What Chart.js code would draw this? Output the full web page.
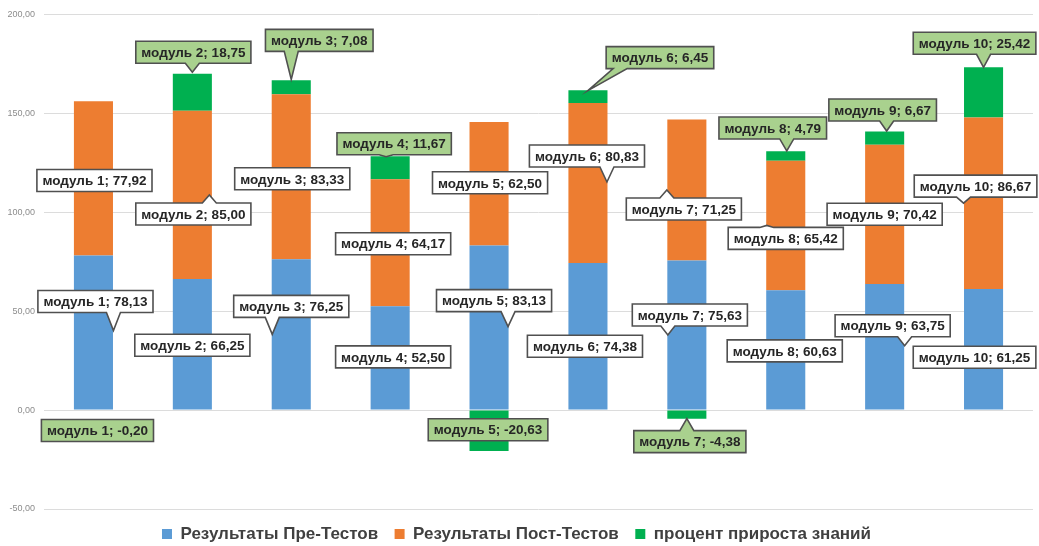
<!DOCTYPE html>
<html><head><meta charset="utf-8">
<script src="https://cdn.jsdelivr.net/npm/chart.js@4.4.0/dist/chart.umd.min.js"></script>
<style>html,body{margin:0;padding:0;background:#fff}#wrap{width:1039px;height:546px}</style>
</head><body><div id="wrap"><canvas id="c" width="1039" height="546"></canvas></div>
<script>
const categories = ['модуль 1','модуль 2','модуль 3','модуль 4','модуль 5','модуль 6','модуль 7','модуль 8','модуль 9','модуль 10'];
const preTest  = [78.13, 66.25, 76.25, 52.50, 83.13, 74.38, 75.63, 60.63, 63.75, 61.25];
const postTest = [77.92, 85.00, 83.33, 64.17, 62.50, 80.83, 71.25, 65.42, 70.42, 86.67];
const knowledgeGain = [-0.20, 18.75, 7.08, 11.67, -20.63, 6.45, -4.38, 4.79, 6.67, 25.42];
const seriesNames = ['Результаты Пре-Тестов', 'Результаты Пост-Тестов', 'процент прироста знаний'];
const yTickValues = [-50, 0, 50, 100, 150, 200];

// callout layout: [box dx, box dy, tip dx, tip dy] relative to segment centre (pixels)
const preLayout = [[2,-31,20,-2],[0,1],[0,-28,-19,0],[3,-1],[5,-27,19,-1],[-3,10],[3,-20,-19,0],[-1,1],[8,-21,20,-1],[-9,8]];
const postLayout = [[1,2],[1,19,17,0],[1,2],[3,1],[1,-1],[-1,-27,19,-1],[-3,19,-20,0],[0,13,-19,0],[0,0],[-8,-17,-20,0]];
const gainLayout = [[4,20],[1,-40,0,-20],[28,-47,0,-8],[4,-24,-4,-11],[-1,-1],[72,-39,0,-6],[3,27,0,4],[-13,-28,1,-5],[-2,-28,2,-7],[-9,-49,0,-25]];

const fmt = v => v.toFixed(2).replace('.', ',');

const calloutPlugin = {
  id: 'callouts',
  afterDatasetsDraw(chart) {
    const ctx = chart.ctx;
    const layouts = [preLayout, postLayout, gainLayout];
    const fills = ['#ffffff', '#ffffff', '#a9d18e'];
    ctx.save();
    ctx.font = 'bold 13.5px "Liberation Sans", Arial, sans-serif';
    chart.data.datasets.forEach((ds, di) => {
      const meta = chart.getDatasetMeta(di);
      meta.data.forEach((bar, i) => {
        const lay = layouts[di][i];
        const ax = bar.x, ay = (bar.y + bar.base) / 2;
        const text = categories[i] + '; ' + fmt(ds.data[i]);
        const tw = ctx.measureText(text).width;
        const w = tw + 11, h = 22;
        const cx = ax + lay[0], cy = ay + lay[1];
        const L = cx - w/2, R = cx + w/2, T = cy - h/2, B = cy + h/2;
        ctx.beginPath();
        if (lay.length > 2) {
          const tx = ax + lay[2], ty = ay + lay[3];
          const hw = 7;
          if (ty > B) {
            const bc = Math.min(Math.max(tx, L + 14), R - 14);
            ctx.moveTo(L, T); ctx.lineTo(R, T); ctx.lineTo(R, B);
            ctx.lineTo(bc + hw, B); ctx.lineTo(tx, ty); ctx.lineTo(bc - hw, B);
            ctx.lineTo(L, B); ctx.closePath();
          } else if (ty < T) {
            const bc = Math.min(Math.max(tx, L + 14), R - 14);
            ctx.moveTo(L, T); ctx.lineTo(bc - hw, T); ctx.lineTo(tx, ty); ctx.lineTo(bc + hw, T);
            ctx.lineTo(R, T); ctx.lineTo(R, B); ctx.lineTo(L, B); ctx.closePath();
          } else if (tx > R) {
            const bc = Math.min(Math.max(ty, T + 6), B - 6);
            ctx.moveTo(L, T); ctx.lineTo(R, T); ctx.lineTo(R, bc - 5); ctx.lineTo(tx, ty);
            ctx.lineTo(R, bc + 5); ctx.lineTo(R, B); ctx.lineTo(L, B); ctx.closePath();
          } else {
            const bc = Math.min(Math.max(ty, T + 6), B - 6);
            ctx.moveTo(L, T); ctx.lineTo(R, T); ctx.lineTo(R, B); ctx.lineTo(L, B);
            ctx.lineTo(L, bc + 5); ctx.lineTo(tx, ty); ctx.lineTo(L, bc - 5); ctx.closePath();
          }
        } else {
          ctx.rect(L, T, w, h);
        }
        ctx.fillStyle = fills[di];
        ctx.fill();
        ctx.lineWidth = 1.6;
        ctx.strokeStyle = '#505050';
        ctx.stroke();
        ctx.fillStyle = '#262626';
        ctx.textAlign = 'center';
        ctx.textBaseline = 'middle';
        ctx.fillText(text, cx, cy + 1);
      });
    });
    ctx.restore();
  }
};

new Chart(document.getElementById('c'), {
  type: 'bar',
  data: {
    labels: categories,
    datasets: [
      { label: seriesNames[0], data: preTest, backgroundColor: '#5b9bd5' },
      { label: seriesNames[1], data: postTest, backgroundColor: '#ed7d31' },
      { label: seriesNames[2], data: knowledgeGain, backgroundColor: '#00b050' }
    ]
  },
  options: {
    responsive: false,
    animation: false,
    devicePixelRatio: 1,
    layout: { padding: { top: 14, right: 6, left: 0, bottom: -6.5 } },
    datasets: { bar: { barPercentage: 0.395, categoryPercentage: 1 } },
    scales: {
      x: { stacked: true, display: false },
      y: {
        stacked: true, min: -50, max: 200,
        afterBuildTicks(scale) { scale.ticks = yTickValues.map(v => ({ value: v })); },
        afterFit(scale) { scale.width = 44; },
        border: { display: false },
        grid: { color: '#dcdcdc', lineWidth: 1, drawTicks: false },
        ticks: { color: '#8c8c8c', padding: 9, font: { size: 9, family: '"Liberation Sans", Arial, sans-serif' }, callback: v => fmt(v) }
      }
    },
    plugins: {
      legend: {
        position: 'bottom',
        labels: { boxWidth: 10, boxHeight: 10, padding: 16.5, color: '#404040', font: { size: 17, weight: 'bold', family: '"Liberation Sans", Arial, sans-serif' } }
      },
      tooltip: { enabled: false }
    }
  },
  plugins: [calloutPlugin]
});
</script>
</body></html>
